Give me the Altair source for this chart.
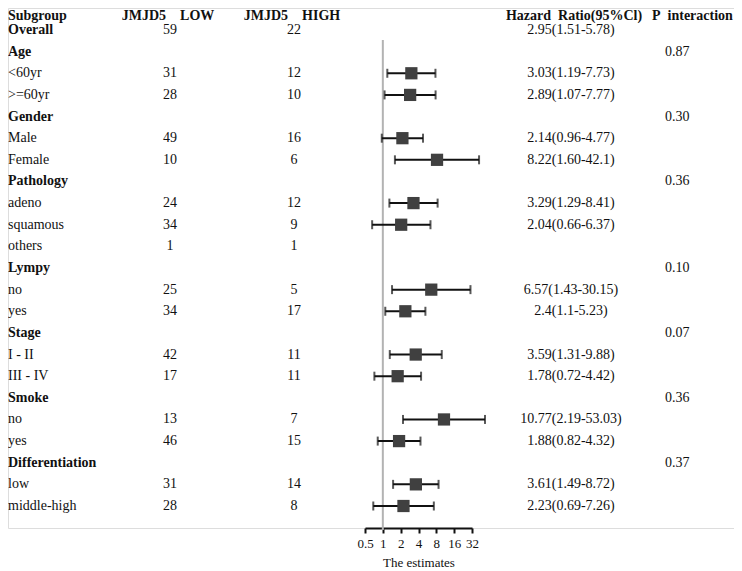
import altair as alt
import pandas as pd

labels = ["Overall", "Age", "<60yr", ">=60yr", "Gender", "Male", "Female",
          "Pathology", "adeno", "squamous", "others", "Lympy", "no", "yes",
          "Stage", "I - II", "III - IV", "Smoke", "no", "yes",
          "Differentiation", "low", "middle-high"]
is_header = [True, True, False, False, True, False, False,
             True, False, False, False, True, False, False,
             True, False, False, True, False, False,
             True, False, False]
low_n = ["59", "", "31", "28", "", "49", "10", "", "24", "34", "1", "", "25", "34",
         "", "42", "17", "", "13", "46", "", "31", "28"]
high_n = ["22", "", "12", "10", "", "16", "6", "", "12", "9", "1", "", "5", "17",
          "", "11", "11", "", "7", "15", "", "14", "8"]
hr_text = ["2.95(1.51-5.78)", "", "3.03(1.19-7.73)", "2.89(1.07-7.77)", "",
           "2.14(0.96-4.77)", "8.22(1.60-42.1)", "", "3.29(1.29-8.41)",
           "2.04(0.66-6.37)", "", "", "6.57(1.43-30.15)", "2.4(1.1-5.23)", "",
           "3.59(1.31-9.88)", "1.78(0.72-4.42)", "", "10.77(2.19-53.03)",
           "1.88(0.82-4.32)", "", "3.61(1.49-8.72)", "2.23(0.69-7.26)"]
p_int = ["", "0.87", "", "", "0.30", "", "", "0.36", "", "", "", "0.10", "", "",
         "0.07", "", "", "0.36", "", "", "0.37", "", ""]
# plotted estimates (None = not drawn)
est = [None, None, 3.03, 2.89, None, 2.14, 8.22, None, 3.29, 2.04, None, None,
       6.57, 2.4, None, 3.59, 1.78, None, 10.77, 1.88, None, 3.61, 2.23]
lo = [None, None, 1.19, 1.07, None, 0.96, 1.60, None, 1.29, 0.66, None, None,
      1.43, 1.1, None, 1.31, 0.72, None, 2.19, 0.82, None, 1.49, 0.69]
hi = [None, None, 7.73, 7.77, None, 4.77, 42.1, None, 8.41, 6.37, None, None,
      30.15, 5.23, None, 9.88, 4.42, None, 53.03, 4.32, None, 8.72, 7.26]
tick_vals = [0.5, 1, 2, 4, 8, 16, 32]
headers = ["Subgroup", "JMJD5\u00a0\u00a0\u00a0\u00a0LOW", "JMJD5\u00a0\u00a0\u00a0\u00a0HIGH",
           "Hazard\u00a0\u00a0Ratio(95%Cl)", "P\u00a0\u00a0interaction"]
header_x = [0, 160, 284, 566, 644]
header_align = ["left", "center", "center", "center", "left"]

rows = list(range(1, len(labels) + 1))
df = pd.DataFrame({"row": rows, "label": labels, "hdr": is_header, "low": low_n,
                   "high": high_n, "hr": hr_text, "p": p_int,
                   "est": est, "lo": lo, "hi": hi})
dfp = df.dropna(subset=["est"])

FONT = "Liberation Serif"
W, H = 726, 520

yscale = alt.Scale(domain=[1, 23], range=[22, 498])
xscale = alt.Scale(type="log", base=2, domain=[0.5, 32], range=[357, 464], nice=False)
Y = alt.Y("row:Q", scale=yscale, axis=None)

base = alt.Chart(df)

def col(field, x, align="center", weight="normal", flt=None):
    c = base
    if flt is not None:
        c = c.transform_filter(flt)
    return c.mark_text(font=FONT, fontSize=14, align=align, baseline="middle",
                       color="#111", fontWeight=weight).encode(
        x=alt.value(x), y=Y, text=f"{field}:N")

lab_b = col("label", 0, "left", "bold", "datum.hdr")
lab_n = col("label", 0, "left", "normal", "!datum.hdr")
lowc = col("low", 162)
highc = col("high", 286)
hrc = col("hr", 563)
pc = col("p", 657, "left")

hdr_layers = [
    alt.Chart(pd.DataFrame({"t": [t]})).mark_text(
        font=FONT, fontSize=14, fontWeight="bold", align=a, baseline="middle", color="#111"
    ).encode(x=alt.value(x), y=alt.value(8), text="t:N")
    for t, x, a in zip(headers, header_x, header_align)
]

refline = alt.Chart(pd.DataFrame({"v": [1]})).mark_rule(color="#b3b3b3", strokeWidth=2).encode(
    x=alt.X("v:Q", scale=xscale), y=alt.value(32), y2=alt.value(H + 2))

pb = alt.Chart(dfp)
whisk = pb.mark_rule(color="#111", strokeWidth=2).encode(
    x=alt.X("lo:Q", scale=xscale), x2="hi:Q", y=Y)
cap_lo = pb.mark_tick(color="#111", orient="vertical", size=9, thickness=2).encode(
    x=alt.X("lo:Q", scale=xscale), y=Y)
cap_hi = pb.mark_tick(color="#111", orient="vertical", size=9, thickness=2).encode(
    x=alt.X("hi:Q", scale=xscale), y=Y)
pts = pb.mark_square(color="#404040", opacity=1, size=150).encode(
    x=alt.X("est:Q", scale=xscale,
            axis=alt.Axis(values=tick_vals, format="~g", title="The estimates",
                          grid=False, domainColor="#111", domainWidth=2, tickColor="#111",
                          tickWidth=2, tickSize=5, labelFont=FONT, labelFontSize=13,
                          labelColor="#111", labelPadding=4, titleFont=FONT,
                          titleFontSize=13, titleFontWeight="normal", titleColor="#111",
                          titlePadding=6, labelFlush=False)),
    y=Y)

chart = alt.layer(refline, whisk, cap_lo, cap_hi, pts, lab_b, lab_n, lowc, highc, hrc, pc,
                  *hdr_layers).properties(
    width=W, height=H, autosize=alt.AutoSizeParams(type="none"),
    padding={"left": 0, "top": 0, "right": 0, "bottom": 42}
).configure_view(stroke=None).configure(background="white")

chart.save("out.html", embed_options={"renderer": "svg", "actions": False})
